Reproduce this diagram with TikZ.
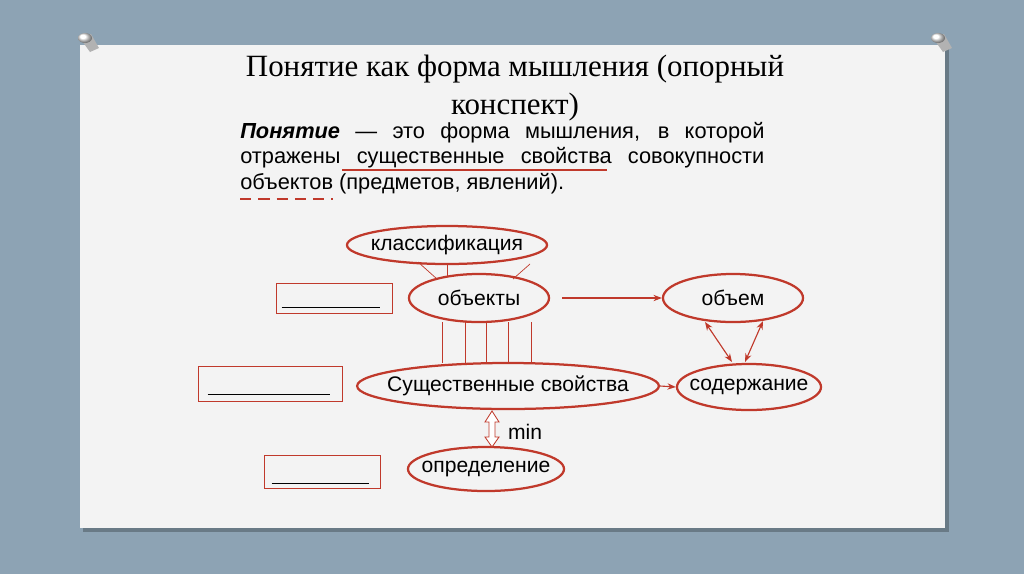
\documentclass[tikz,border=0pt]{standalone}
\usepackage{fontspec}
\setmainfont{Liberation Serif}
\newfontfamily\sansf{Liberation Sans}
\usetikzlibrary{shapes.geometric,arrows.meta}
\definecolor{bg}{HTML}{8DA3B4}
\definecolor{rd}{HTML}{C0392B}
\definecolor{paper}{HTML}{F3F3F3}
\begin{document}
\begin{tikzpicture}[x=0.025cm,y=-0.025cm,
  ell/.style={ellipse,draw=rd,line width=1.6pt,inner xsep=-10pt,inner ysep=-2pt,font=\sansf\fontsize{15}{17}\selectfont},
  box/.style={draw=rd,line width=0.6pt},
  thin/.style={draw=rd,line width=0.5pt},
  arr/.style={draw=rd,line width=0.8pt,-{Stealth[length=6pt]}},
  darr/.style={draw=rd,line width=0.8pt,{Stealth[length=6pt]}-{Stealth[length=6pt]}}]
\fill[bg] (0,0) rectangle (1024,574);
\useasboundingbox (0,0) rectangle (1024,574);
\fill[black,opacity=0.25] (83,48) rectangle (949,532);
\fill[paper] (80,45) rectangle (945,528);
% pins
\foreach \px/\py in {85/38,938/38}{
 \fill[gray!60] (\px-5,\py) -- (\px+5,\py+14) -- (\px+14,\py+10) -- (\px+6,\py-4) -- cycle;
 \shade[ball color=white] (\px,\py) ellipse (7 and 5);}
\node[font=\fontsize{22}{27}\selectfont,align=center] (title) at (515,88) {Понятие как форма мышления (опорный\\конспект)};
\node[font=\sansf\fontsize{15.5}{18}\selectfont,align=justify,anchor=north west,inner sep=0pt,text width=13.1cm] (para) at (240,122)
 {\textbf{\textit{Понятие}} — это форма мышления, в которой отражены существенные свойства совокупности объектов (предметов, явлений).};
\draw[rd,line width=1.2pt] (342,170) -- (607,170);
\draw[rd,line width=1.2pt,dash pattern=on 8pt off 5pt] (240,199) -- (333,199);
\node[ell,minimum width=5cm,minimum height=0.95cm] (kl) at (447,245) {классификация};
\node[ell,minimum width=3.5cm,minimum height=1.2cm] (ob) at (479,298) {объекты};
\node[ell,minimum width=3.5cm,minimum height=1.2cm] (vol) at (733,298) {объем};
\node[ell,minimum width=6.4cm,minimum height=1.15cm] (ss) at (508,386) {Существенные свойства};
\node[ell,minimum width=3.6cm,minimum height=1.15cm] (sod) at (749,387) {содержание};
\node[ell,minimum width=3.9cm,minimum height=1.1cm] (opr) at (486,469) {определение};
\node[box,minimum width=2.9cm,minimum height=0.75cm] (b1) at (334,298) {};
\node[box,minimum width=3.6cm,minimum height=0.87cm] (b2) at (270,384) {};
\node[box,minimum width=2.9cm,minimum height=0.82cm] (b3) at (322,472) {};
\draw (b1.south west)++(6,-6) -- ++(98,0);
\draw (b2.south west)++(10,-8) -- ++(122,0);
\draw (b3.south west)++(8,-6) -- ++(97,0);
\draw[thin] (418,262) -- (437,279);
\draw[thin] (447,264) -- (447,276);
\draw[thin] (530,264) -- (513,279);
\foreach \xx in {442,465,486,508,531} \draw[thin] (\xx,322) -- (\xx,363);
\draw[arr] (562,298) -- (vol.west);
\draw[arr] (ss.east) -- (sod.west);
\draw[darr] (705,322) -- (732,362);
\draw[darr] (763,321) -- (745,362);
\draw[rd,line width=0.6pt,fill=white] (489,422) -- (489,437) -- (485,437) -- (492,447) -- (499,437) -- (495,437) -- (495,422) -- (499,422) -- (492,411) -- (485,422) -- cycle;
\node[font=\sansf\fontsize{15}{17}\selectfont] (min) at (525,432) {min};
\end{tikzpicture}
\end{document}
